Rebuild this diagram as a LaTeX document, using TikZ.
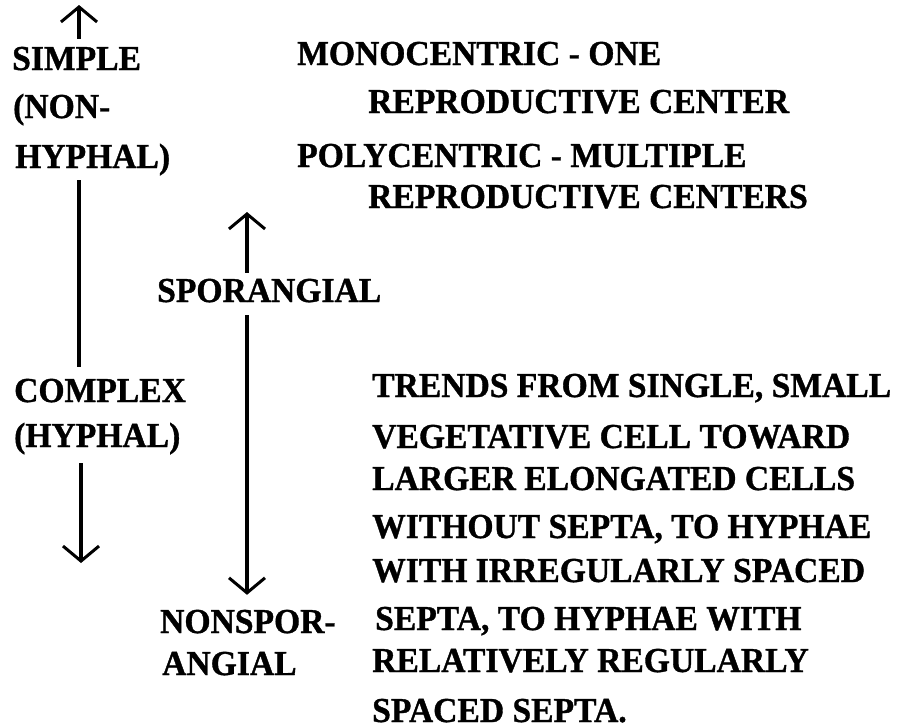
\documentclass[tikz,border=0pt]{standalone}
\usepackage{fontspec}
\setmainfont{Liberation Serif}[FakeStretch=0.96,BoldFeatures={FakeBold=1}]
\usetikzlibrary{arrows.meta}
\begin{document}
\begin{tikzpicture}[x=1pt, y=-1pt,
  every node/.style={font=\fontsize{35}{40}\selectfont\bfseries},
  lbl/.style={anchor=base west,inner sep=0pt,text height=23pt,text depth=0pt},
  arr/.style={line width=3.2pt,-{Straight Barb[length=15pt,width=36pt,line width=3pt]}},
  stem/.style={line width=3.2pt}]
\useasboundingbox (0,0) rectangle (908,728);
% left column
\node[lbl] (simple) at (12,70) {SIMPLE};
\node[lbl] (nonhy1) at (13,118) {(NON-};
\node[lbl] (nonhy2) at (15,168) {HYPHAL)};
\node[lbl] (complex) at (14,402) {COMPLEX};
\node[lbl] (hyphal) at (14,447) {(HYPHAL)};
\coordinate (top1) at (79,5);
\coordinate (bot1) at (81,563);
\draw[arr,shorten <=8pt] (simple.north -| top1) -- (top1);
\draw[stem,shorten <=12pt,shorten >=12pt] (nonhy2.south -| top1) -- (complex.north -| top1);
\draw[arr,shorten <=16pt] (hyphal.south -| bot1) -- (bot1);
% middle column
\node[lbl] (spor) at (157,302) {SPORANGIAL};
\node[lbl] (nonspor1) at (160,633) {NONSPOR-};
\node[lbl] (nonspor2) at (162,675) {ANGIAL};
\coordinate (top2) at (247,212);
\draw[arr,shorten <=6pt] (spor.north -| top2) -- (top2);
\draw[arr,shorten <=13pt,shorten >=15pt] (spor.south -| top2) -- (nonspor1.north -| top2);
% right column
\node[lbl] (mono) at (297,65) {MONOCENTRIC - ONE};
\node[lbl] (mono2) at (368,113) {REPRODUCTIVE CENTER};
\node[lbl] (poly) at (297,167) {POLYCENTRIC - MULTIPLE};
\node[lbl] (poly2) at (368,208) {REPRODUCTIVE CENTERS};
\node[lbl] (tr1) at (372,397) {TRENDS FROM SINGLE, SMALL};
\node[lbl] (tr2) at (372,448) {VEGETATIVE CELL TOWARD};
\node[lbl] (tr3) at (372,490) {LARGER ELONGATED CELLS};
\node[lbl] (tr4) at (372,538) {WITHOUT SEPTA, TO HYPHAE};
\node[lbl] (tr5) at (372,582) {WITH IRREGULARLY SPACED};
\node[lbl] (tr6) at (375,630) {SEPTA, TO HYPHAE WITH};
\node[lbl] (tr7) at (372,672) {RELATIVELY REGULARLY};
\node[lbl] (tr8) at (372,722) {SPACED SEPTA.};
\end{tikzpicture}
\end{document}
